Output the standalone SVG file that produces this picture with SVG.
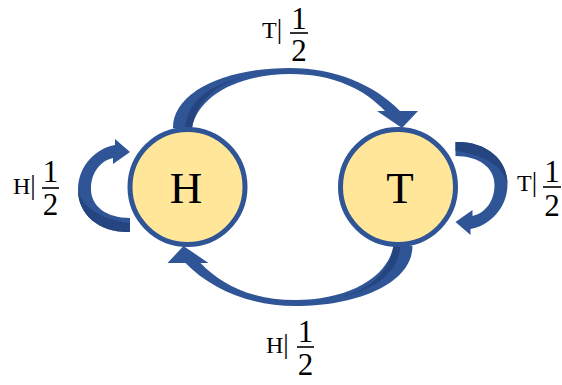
<svg xmlns="http://www.w3.org/2000/svg" width="562" height="385" viewBox="0 0 562 385">
  <style>
    .node { fill: #FFE699; stroke: #2F5597; stroke-width: 5; }
    .nlabel { font-family: "Liberation Serif", "DejaVu Serif", serif; font-size: 45px; fill: #000; text-anchor: middle; }
    .arrow { fill: #2F5597; }
    .shade { fill: #24457F; }
    .lbl { font-family: "Liberation Serif", "DejaVu Serif", serif; font-size: 24px; fill: #000; }
    .pipe { font-size: 27px; }
    .dig { font-family: "Liberation Serif", "DejaVu Serif", serif; font-size: 31px; fill: #000; text-anchor: middle; }
    .bar { stroke: #000; stroke-width: 1.6; }
  </style>
  <defs>
    <g id="arcArrow">
      <path class="arrow" d="M173,128 C173,92 225,68 290,68 C335,68 375,85 400,111 L418,111 L402,128 L377,111 L385,111 C365,90 335,74 290,74 C240,74 198,95 192,128 Z"/>
      <path class="shade" d="M185,128 C187,102 210,84 245,77 C215,84 196,102 192,128 Z"/>
    </g>
    <g id="loopArrow">
      <path class="arrow" d="M130,232 C100,233 78,215 78,190 C78,165 97,148 115,145 L115,139 L130,152 L113,164 L113,158 C100,161 91,173 91,189 C91,206 106,218 130,218 Z"/>
      <path class="shade" d="M130,232 C100,233 78,215 78,190 C81,206 101,220 130,223 Z"/>
    </g>
  </defs>

  <g id="connectors">
    <use id="edge-H-T" href="#arcArrow"/>
    <use id="edge-T-H" href="#arcArrow" transform="rotate(180 292.75 187)"/>
    <use id="edge-H-H" href="#loopArrow"/>
    <use id="edge-T-T" href="#loopArrow" transform="rotate(180 292.75 187)"/>
  </g>

  <g id="node-H">
    <circle class="node" cx="187.5" cy="187" r="57.5"/>
    <text class="nlabel" x="186" y="203">H</text>
  </g>
  <g id="node-T">
    <circle class="node" cx="398" cy="187" r="57.5"/>
    <text class="nlabel" x="400" y="203">T</text>
  </g>

  <g id="labels">
    <g id="label-top">
      <text class="lbl" x="262" y="38">T<tspan class="pipe">|</tspan></text>
      <text class="dig" x="299" y="29">1</text>
      <line class="bar" x1="290" y1="33" x2="308" y2="33"/>
      <text class="dig" x="299" y="61">2</text>
    </g>
    <g id="label-left">
      <text class="lbl" x="13" y="194">H<tspan class="pipe">|</tspan></text>
      <text class="dig" x="50.5" y="182">1</text>
      <line class="bar" x1="42" y1="188" x2="59" y2="188"/>
      <text class="dig" x="50.5" y="215">2</text>
    </g>
    <g id="label-right">
      <text class="lbl" x="517" y="191">T<tspan class="pipe">|</tspan></text>
      <text class="dig" x="552" y="182">1</text>
      <line class="bar" x1="543" y1="187" x2="561" y2="187"/>
      <text class="dig" x="552" y="216">2</text>
    </g>
    <g id="label-bottom">
      <text class="lbl" x="266" y="353">H<tspan class="pipe">|</tspan></text>
      <text class="dig" x="305.5" y="342">1</text>
      <line class="bar" x1="297" y1="347" x2="314" y2="347"/>
      <text class="dig" x="305.5" y="375">2</text>
    </g>
  </g>
</svg>
